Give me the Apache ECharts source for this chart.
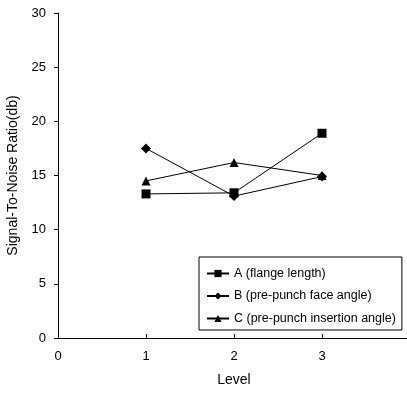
<!DOCTYPE html>
<html><head><meta charset="utf-8">
<script src="https://cdn.jsdelivr.net/npm/echarts@6/dist/echarts.min.js"></script>
<style>html,body{margin:0;padding:0;background:#fff}#c{width:407px;height:393px}</style>
</head><body><div id="c"></div>
<script>
const levels = [1, 2, 3];
const xTicks = [0, 1, 2, 3];
const seriesNames = ['A (flange length)', 'B (pre-punch face angle)', 'C (pre-punch insertion angle)'];
const valuesA = [13.3, 13.4, 18.9];
const valuesB = [17.5, 13.1, 14.9];
const valuesC = [14.5, 16.2, 15.0];
const symbols = ['rect', 'diamond', 'triangle'];

const all = [valuesA, valuesB, valuesC];
const font = 'Liberation Sans, Arial, sans-serif';
const chart = echarts.init(document.getElementById('c'));
chart.setOption({
  animation: false,
  backgroundColor: '#fff',
  grid: {left: 58, width: 352, top: 13, height: 325, containLabel: false, outerBoundsMode: 'none'},
  xAxis: {
    type: 'value', min: 0, max: 4, interval: 1,
    name: 'Level', nameLocation: 'middle', nameGap: 35,
    nameTextStyle: {color: '#000', fontSize: 14, fontFamily: font},
    axisLine: {lineStyle: {color: '#000', width: 1}},
    axisTick: {inside: true, length: 4, lineStyle: {color: '#000'}},
    axisLabel: {color: '#000', fontSize: 13, fontFamily: font, margin: 12,
      formatter: v => xTicks.includes(v) ? String(v) : ''},
    splitLine: {show: false}
  },
  yAxis: {
    type: 'value', min: 0, max: 30, interval: 5,
    name: 'Signal-To-Noise Ratio(db)', nameLocation: 'middle', nameGap: 38,
    nameTextStyle: {color: '#000', fontSize: 14, fontFamily: font},
    axisLine: {show: true, lineStyle: {color: '#000', width: 1}},
    axisTick: {show: true, length: 4, lineStyle: {color: '#000'}},
    axisLabel: {color: '#000', fontSize: 13, fontFamily: font, margin: 12},
    splitLine: {show: false}
  },
  legend: {
    orient: 'vertical', left: 199, top: 257, width: 190,
    padding: [10, 6, 5, 7], itemGap: 9.5,
    borderColor: '#000', borderWidth: 1, backgroundColor: '#fff',
    itemWidth: 22, itemHeight: 9,
    textStyle: {color: '#000', fontSize: 12.5, fontFamily: font},
    data: seriesNames
  },
  series: all.map((vals, i) => ({
    name: seriesNames[i], type: 'line',
    data: levels.map((x, j) => [x, vals[j]]),
    symbol: symbols[i], symbolSize: i === 1 ? 10 : 9,
    lineStyle: {color: '#000', width: 1},
    itemStyle: {color: '#000'},
    z: 3 + i
  }))
});
</script></body></html>
